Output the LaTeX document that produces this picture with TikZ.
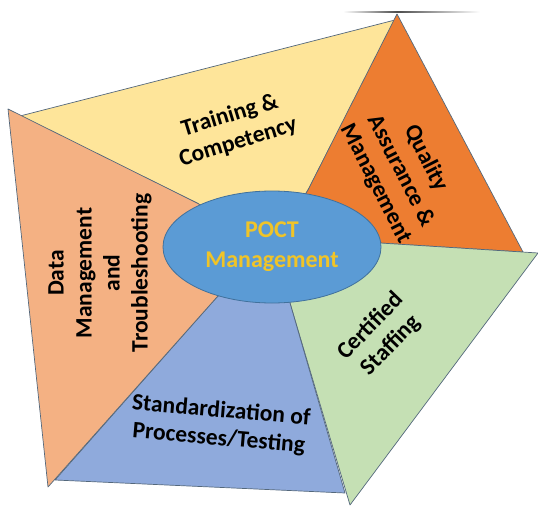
\documentclass[tikz,border=0pt]{standalone}
\usepackage{fontspec}
\setmainfont{Carlito}
\usetikzlibrary{shapes.geometric}
\definecolor{edgec}{RGB}{84,104,124}
\definecolor{cyellow}{RGB}{254,229,154}
\definecolor{corange}{RGB}{237,125,49}
\definecolor{cpeach}{RGB}{244,177,131}
\definecolor{cgreen}{RGB}{197,224,180}
\definecolor{cblue}{RGB}{143,170,220}
\definecolor{chub}{RGB}{91,155,213}
\definecolor{chubedge}{RGB}{65,113,156}
\definecolor{cgold}{RGB}{240,196,40}
\begin{document}
\begin{tikzpicture}[x=1pt,y=-1pt,
  seg/.style={draw=edgec, line width=0.7pt, line join=round},
  lbl/.style={font=\bfseries\fontsize{23.5}{28}\selectfont, align=center, text=black, inner sep=0pt},
]
\useasboundingbox (0,0) rectangle (538,506);
% key points
\coordinate (C) at (272,247);
\coordinate (TL) at (8,109);
\coordinate (TLy) at (20,116);
\coordinate (TR) at (397,14);
\coordinate (TRy) at (395,20);
\coordinate (R) at (523,252);
\coordinate (Rg) at (538,253);
\coordinate (BR) at (350,505);
\coordinate (BRb) at (345,493);
\coordinate (BL) at (48,487);
\coordinate (BLb) at (55,480);
\coordinate (E1) at (197,203);
\coordinate (E2) at (308,190);
\coordinate (E3) at (380,243);
\coordinate (E4) at (290,303);
\coordinate (E5) at (217,297);
% faint shadow line at top
\shade[left color=white, right color=black!70] (343,11.3) rectangle (397,12.7);
\shade[left color=black!70, right color=white] (397,11.3) rectangle (480,12.7);
% segments
\filldraw[seg, fill=cyellow] (TLy) -- (TRy) -- (E2) -- (C) -- (E1) -- cycle;
\filldraw[seg, fill=corange] (TR) -- (R) -- (E3) -- (C) -- (E2) -- cycle;
\filldraw[seg, fill=cgreen] (E3) -- (Rg) -- (BR) -- (E4) -- (C) -- cycle;
\filldraw[seg, fill=cblue] (E5) -- (C) -- (E4) -- (BRb) -- (BLb) -- cycle;
\filldraw[seg, fill=cpeach] (TL) -- (E1) -- (C) -- (E5) -- (BL) -- cycle;
% hub
\node[ellipse, minimum width=218pt, minimum height=112pt, fill=chub, draw=chubedge, line width=0.8pt,
  font=\bfseries\fontsize{24}{30}\selectfont, text=cgold, align=center] (hub) at (C) {POCT\\Management};
% labels
\node[lbl, rotate=17] (train) at (234,129) {Training \&\\Competency};
\node[lbl, rotate=-63] (qual) at (401,171) {Quality\\Assurance \&\\Management};
\node[lbl, rotate=90] (data) at (100,273) {Data\\Management\\and\\Troubleshooting};
\node[lbl, rotate=46] (cert) at (381,336) {Certified\\Staffing};
\node[lbl, rotate=-5] (std) at (220,425) {Standardization of\\Processes/Testing};
\end{tikzpicture}
\end{document}
